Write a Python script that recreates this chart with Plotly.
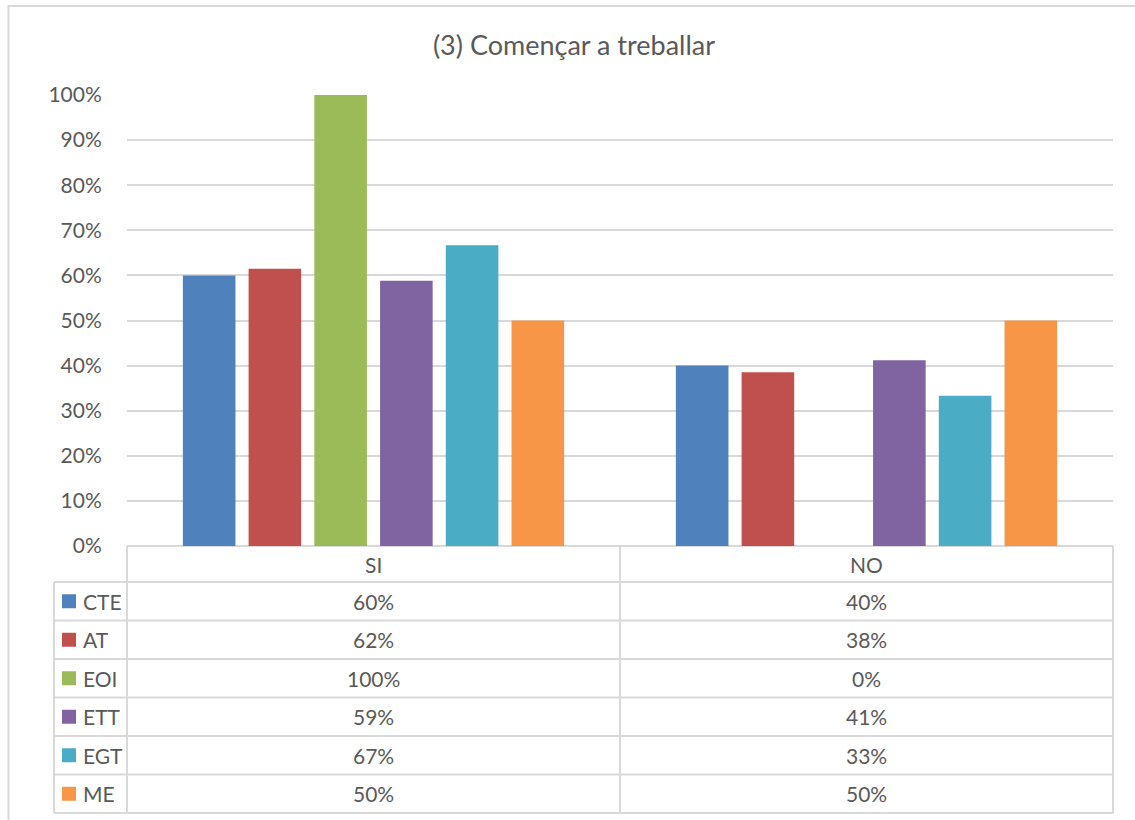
import plotly.graph_objects as go

# ---- data ----
categories = ["SI", "NO"]
series_names = ["CTE", "AT", "EOI", "ETT", "EGT", "ME"]
series_colors = ["#4F81BD", "#C0504D", "#9BBB59", "#8064A2", "#4BACC6", "#F79646"]
cte = [0.60, 0.40]
at = [0.615, 0.385]
eoi = [1.00, 0.00]
ett = [0.588, 0.412]
egt = [0.667, 0.333]
me = [0.50, 0.50]
series_values = [cte, at, eoi, ett, egt, me]
title_text = "(3) Començar a treballar"
y_tick_vals = [i / 10 for i in range(11)]
y_tick_text = [f"{i * 10}%" for i in range(11)]

# ---- layout geometry (target page pixels) ----
W, H = 1135, 820
PX_L, PX_R = 127, 1113      # plot area left/right
PY_T, PY_B = 95, 546        # plot area top (100%) / bottom (0%)
TBL_LEFT = 54               # table legend column left edge
HDR_B = 582                 # bottom of header row
ROW_H = (813 - HDR_B) / 6
COL_MID = (PX_L + PX_R) / 2
FONT = "Lato, Calibri, Carlito, sans-serif"
TXT = "#595959"
GRID = "#D9D9D9"
FS = 21


def px(x):
    return x / W


def py(y):
    return 1 - y / H


fig = go.Figure()
for name, color, vals in zip(series_names, series_colors, series_values):
    fig.add_trace(go.Bar(
        x=categories, y=vals, name=name,
        marker=dict(color=color, line=dict(width=0)),
        showlegend=False, hoverinfo="x+y+name",
    ))

shapes = []
annotations = []

# outer chart border
shapes.append(dict(type="rect", xref="paper", yref="paper",
                   x0=px(8.5), x1=px(1150), y0=py(840), y1=py(6),
                   line=dict(color=GRID, width=2), fillcolor="rgba(0,0,0,0)"))

# table vertical lines
for xv in [PX_L, COL_MID, PX_R]:
    shapes.append(dict(type="line", xref="paper", yref="paper",
                       x0=px(xv), x1=px(xv), y0=py(PY_B), y1=py(HDR_B + 6 * ROW_H),
                       line=dict(color=GRID, width=2)))
shapes.append(dict(type="line", xref="paper", yref="paper",
                   x0=px(TBL_LEFT), x1=px(TBL_LEFT), y0=py(HDR_B), y1=py(HDR_B + 6 * ROW_H),
                   line=dict(color=GRID, width=2)))
# table horizontal lines
for r in range(7):
    yv = HDR_B + r * ROW_H
    shapes.append(dict(type="line", xref="paper", yref="paper",
                       x0=px(TBL_LEFT), x1=px(PX_R), y0=py(yv), y1=py(yv),
                       line=dict(color=GRID, width=2)))

# header row text
col_centers = [(PX_L + COL_MID) / 2, (COL_MID + PX_R) / 2]
for c, cat in enumerate(categories):
    annotations.append(dict(text=cat, xref="paper", yref="paper",
                            x=px(col_centers[c]), y=py((PY_B + HDR_B) / 2),
                            xanchor="center", yanchor="middle", showarrow=False,
                            font=dict(family=FONT, size=FS, color=TXT)))

# data rows
for r, (name, color, vals) in enumerate(zip(series_names, series_colors, series_values)):
    yc = HDR_B + (r + 0.5) * ROW_H
    shapes.append(dict(type="rect", xref="paper", yref="paper",
                       x0=px(62), x1=px(76), y0=py(yc + 7), y1=py(yc - 7),
                       fillcolor=color, line=dict(width=0)))
    annotations.append(dict(text=name, xref="paper", yref="paper",
                            x=px(81), y=py(yc), xanchor="left", yanchor="middle",
                            showarrow=False, font=dict(family=FONT, size=FS, color=TXT)))
    for c, v in enumerate(vals):
        annotations.append(dict(text=f"{round(v * 100)}%", xref="paper", yref="paper",
                                x=px(col_centers[c]), y=py(yc),
                                xanchor="center", yanchor="middle", showarrow=False,
                                font=dict(family=FONT, size=FS, color=TXT)))

fig.update_layout(
    width=W, height=H,
    margin=dict(l=0, r=0, t=0, b=0, pad=0, autoexpand=False),
    paper_bgcolor="white", plot_bgcolor="white",
    barmode="group", bargap=0.2, bargroupgap=0.2,
    title=dict(text=title_text, x=px(574), y=py(46), xanchor="center", yanchor="middle",
               font=dict(family=FONT, size=27, color=TXT)),
    xaxis=dict(domain=[px(PX_L), px(PX_R)], showticklabels=False, showgrid=False,
               zeroline=False, showline=False, ticks=""),
    yaxis=dict(domain=[py(PY_B), py(PY_T)], range=[0, 1], tickvals=y_tick_vals,
               ticktext=y_tick_text, showgrid=True, gridcolor=GRID, gridwidth=2,
               zeroline=True, zerolinecolor=GRID, zerolinewidth=2, showline=False,
               ticks="outside", ticklen=20, tickcolor="rgba(0,0,0,0)",
               tickfont=dict(family=FONT, size=FS, color=TXT)),
    shapes=shapes, annotations=annotations,
    font=dict(family=FONT, color=TXT),
)

fig.write_html("out.html",
               config={"displayModeBar": False},
               post_script="document.body.style.margin='0';document.body.style.overflow='hidden';")
